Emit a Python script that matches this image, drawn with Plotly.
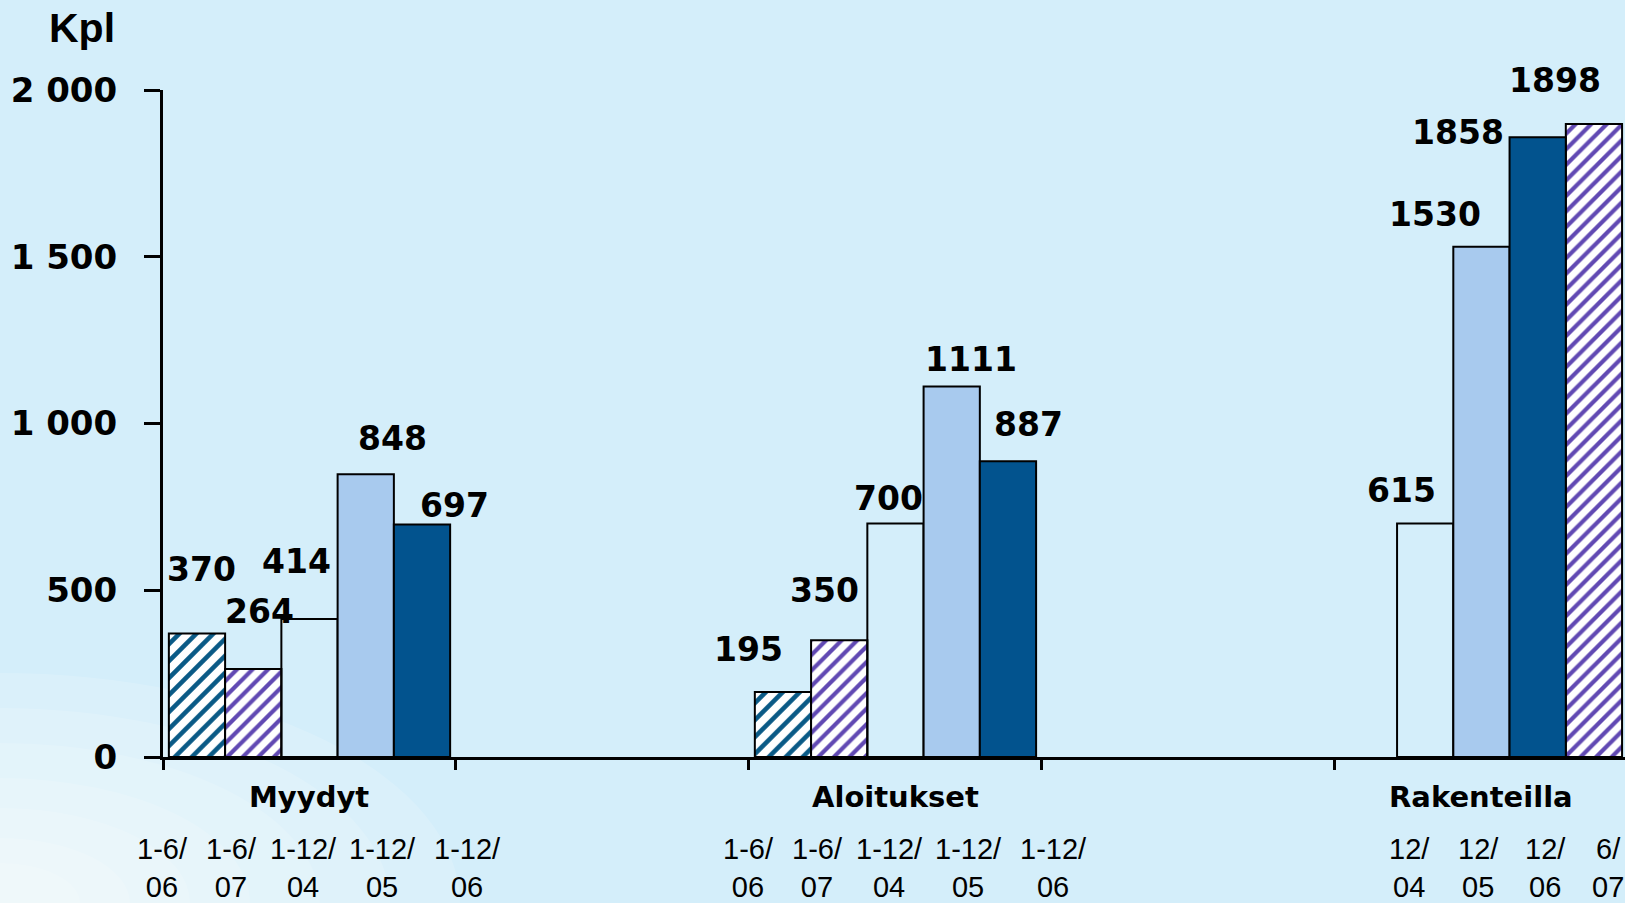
import plotly.graph_objects as go

# data
groups = ["Myydyt", "Aloitukset", "Rakenteilla"]
group_slots = [0, 2, 4]

myydyt_values = [370, 264, 414, 848, 697]
myydyt_labels = ["370", "264", "414", "848", "697"]
myydyt_periods = ["1-6/<br>06", "1-6/<br>07", "1-12/<br>04", "1-12/<br>05", "1-12/<br>06"]
myydyt_series = ["teal", "purple", "none", "light", "dark"]

aloitukset_values = [195, 350, 700, 1111, 887]
aloitukset_labels = ["195", "350", "700", "1111", "887"]
aloitukset_periods = ["1-6/<br>06", "1-6/<br>07", "1-12/<br>04", "1-12/<br>05", "1-12/<br>06"]
aloitukset_series = ["teal", "purple", "none", "light", "dark"]

# the first bar is drawn at ~700 in the source although labelled 615
rakenteilla_values = [700, 1530, 1858, 1898]
rakenteilla_labels = ["615", "1530", "1858", "1898"]
rakenteilla_periods = ["12/<br>04", "12/<br>05", "12/<br>06", "6/<br>07"]
rakenteilla_series = ["none", "light", "dark", "purple"]

y_ticks = [0, 500, 1000, 1500, 2000]
y_ticktext = ["0", "500", "1 000", "1 500", "2 000"]

# layout helpers (pixel nudges for labels, as placed in the original)
bar_w = 0.192
first_pos = [0, 0, 1]
label_nudge = [
    [(5, 64), (6, 57), (-13, 57), (27, 36), (32, 19)],
    [(-34, 42), (-15, 50), (-7, 25), (19, 27), (21, 37)],
    [(-24, 33), (-46, 32), (-80, 5), (-39, 44)],
]
period_shift = [
    [-147, -78, -6, 73, 158],
    [-147, -78, -6, 73, 158],
    [-72, -3, 64, 127],
]

styles = {
    "teal": dict(color="white", pattern=dict(shape="/", fgcolor="#0a5a86", bgcolor="white",
                                             fgopacity=1, size=12, solidity=0.38)),
    "purple": dict(color="white", pattern=dict(shape="/", fgcolor="#6149b3", bgcolor="white",
                                               fgopacity=1, size=11, solidity=0.38)),
    "none": dict(color="rgba(0,0,0,0)"),
    "light": dict(color="#a8caee"),
    "dark": dict(color="#02538e"),
}

all_values = [myydyt_values, aloitukset_values, rakenteilla_values]
all_labels = [myydyt_labels, aloitukset_labels, rakenteilla_labels]
all_periods = [myydyt_periods, aloitukset_periods, rakenteilla_periods]
all_series = [myydyt_series, aloitukset_series, rakenteilla_series]

fig = go.Figure()
annotations = []

bold = "DejaVu Sans"
for s in ["teal", "purple", "none", "light", "dark"]:
    xs, ys = [], []
    for g in range(3):
        for i, v in enumerate(all_values[g]):
            if all_series[g][i] == s:
                pos = first_pos[g] + i
                xs.append(group_slots[g] + 0.5 + (pos - 2) * bar_w)
                ys.append(v)
    fig.add_trace(go.Bar(x=xs, y=ys, width=bar_w, showlegend=False,
                         marker=dict(line=dict(color="black", width=2), opacity=1, **styles[s])))

for g in range(3):
    center = group_slots[g] + 0.5
    for i, v in enumerate(all_values[g]):
        pos = first_pos[g] + i
        dx, dy = label_nudge[g][i]
        annotations.append(dict(x=center + (pos - 2) * bar_w, y=v, xref="x", yref="y",
                                text="<b>" + all_labels[g][i] + "</b>", showarrow=False,
                                xshift=dx, yshift=dy, xanchor="center", yanchor="middle",
                                font=dict(family=bold, size=33, color="black")))
        annotations.append(dict(x=center, y=0, xref="x", yref="paper",
                                text=all_periods[g][i], showarrow=False,
                                xshift=period_shift[g][i], yshift=-111,
                                xanchor="center", yanchor="middle",
                                font=dict(family="Liberation Sans, Arial", size=29, color="black")))
    annotations.append(dict(x=center, y=0, xref="x", yref="paper", text="<b>" + groups[g] + "</b>",
                            showarrow=False, yshift=-40, xanchor="center", yanchor="middle",
                            font=dict(family=bold, size=29, color="black")))

annotations.append(dict(x=0, y=1, xref="paper", yref="paper", text="<b>Kpl</b>", showarrow=False,
                        xshift=-81, yshift=62, xanchor="center", yanchor="middle",
                        font=dict(family="Liberation Sans, Arial", size=41, color="black")))

# soft white glow in the lower left corner of the background
shapes = []
pw, ph = 1462.0, 667.0
for r in [460, 390, 320, 250, 190, 130, 80]:
    shapes.append(dict(type="circle", xref="paper", yref="paper", layer="below",
                       x0=(-r - 163) / pw, x1=(r - 163) / pw,
                       y0=(757 - 903 - r * 0.5) / ph, y1=(757 - 903 + r * 0.5) / ph,
                       fillcolor="white", opacity=0.15, line=dict(width=0)))

fig.update_layout(
    width=1625, height=903,
    margin=dict(l=163, r=0, t=90, b=146),
    paper_bgcolor="#d4eefa", plot_bgcolor="rgba(0,0,0,0)",
    barmode="overlay",
    annotations=annotations, shapes=shapes,
    xaxis=dict(range=[0, 4.99], tickvals=[0, 1, 2, 3, 4], ticktext=["", "", "", "", ""],
               ticks="outside", ticklen=10, tickwidth=3, tickcolor="black",
               showline=True, linecolor="black", linewidth=3, showgrid=False, zeroline=False),
    yaxis=dict(range=[0, 2000], tickvals=y_ticks, ticktext=y_ticktext,
               ticks="outside", ticklen=16, tickwidth=3, tickcolor="black",
               ticklabelstandoff=20,
               tickfont=dict(family=bold, size=34, color="black", weight="bold"),
               showline=True, linecolor="black", linewidth=3, showgrid=False, zeroline=False),
)

fig.write_html("out.html", config={"displayModeBar": False},
               post_script="document.body.style.margin='0';document.body.style.overflow='hidden';")
